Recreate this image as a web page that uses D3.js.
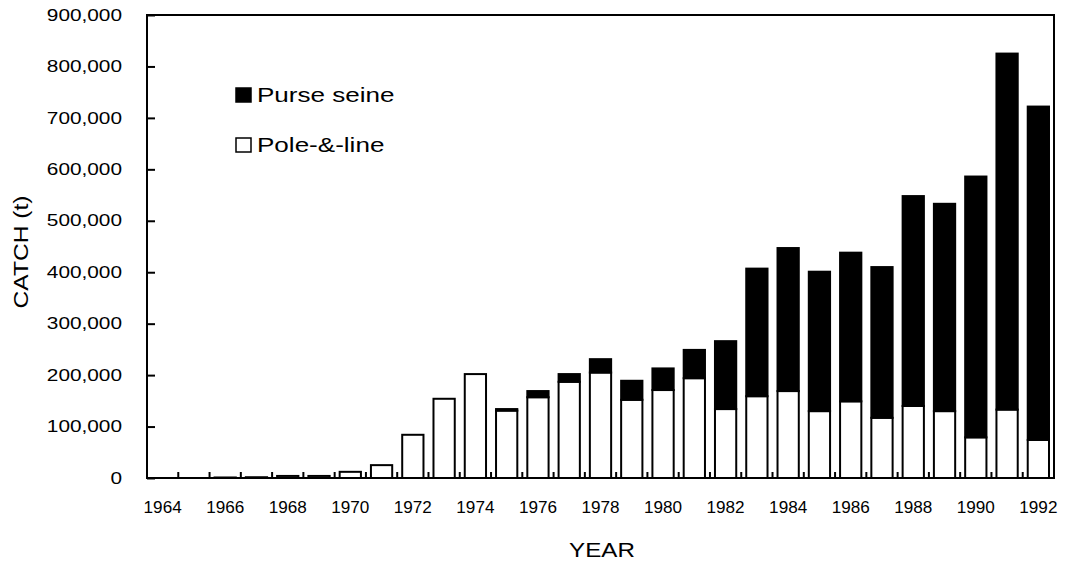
<!DOCTYPE html>
<html>
<head>
<meta charset="utf-8">
<script src="https://cdn.jsdelivr.net/npm/d3@7"></script>
<style>
  body { margin: 0; background: #fff; }
  text { font-family: "Liberation Sans", Arial, sans-serif; fill: #000; }
</style>
</head>
<body>
<svg id="chart" width="1074" height="562"></svg>
<script>
// catch by year, tonnes
const years = d3.range(1964, 1993);
const poleLine = [0, 0, 1000, 1500, 4000, 4000, 12000, 25000, 84000, 154000,
  202000, 131000, 157000, 187000, 205000, 152000, 171000, 194000, 134000, 159000,
  169000, 130000, 149000, 117000, 140000, 130000, 79000, 133000, 74000];
const purseSeine = [0, 0, 0, 0, 0, 0, 0, 0, 0, 0,
  0, 3000, 12000, 15000, 26000, 37000, 42000, 55000, 132000, 248000,
  278000, 271000, 289000, 293000, 408000, 403000, 507000, 692000, 648000];
const yTicks = [0, 100000, 200000, 300000, 400000, 500000, 600000, 700000, 800000, 900000];
const xLabelYears = years.filter(y => y % 2 === 0);
const seriesNames = ["Purse seine", "Pole-&-line"];

const plotLeft = 147, plotRight = 1054, plotTop = 15, plotBottom = 478;

const svg = d3.select("#chart");

const x = d3.scaleBand().domain(years).range([plotLeft, plotRight])
  .paddingInner(0.32).paddingOuter(0.16);
const y = d3.scaleLinear().domain([0, 900000]).range([plotBottom, plotTop]);

// stretch text horizontally like the scanned original
function stretch(sel, k) {
  sel.each(function() {
    const w = this.getComputedTextLength();
    d3.select(this).attr("textLength", w * k).attr("lengthAdjust", "spacingAndGlyphs");
  });
}

// pole-and-line (white) bars
svg.append("g").selectAll("rect")
  .data(years)
  .join("rect")
  .attr("x", d => x(d))
  .attr("width", x.bandwidth())
  .attr("y", (d, i) => y(poleLine[i]))
  .attr("height", (d, i) => y(0) - y(poleLine[i]))
  .attr("fill", "#fff")
  .attr("stroke", "#000")
  .attr("stroke-width", 2);

// purse seine (black) stacked on top
svg.append("g").selectAll("rect")
  .data(years.filter((d, i) => purseSeine[i] > 0))
  .join("rect")
  .attr("x", d => x(d))
  .attr("width", x.bandwidth())
  .attr("y", d => { const i = years.indexOf(d); return y(poleLine[i] + purseSeine[i]); })
  .attr("height", d => { const i = years.indexOf(d); return y(poleLine[i]) - y(poleLine[i] + purseSeine[i]); })
  .attr("fill", "#000")
  .attr("stroke", "#000")
  .attr("stroke-width", 2);

// frame
svg.append("rect")
  .attr("x", plotLeft).attr("y", plotTop)
  .attr("width", plotRight - plotLeft).attr("height", plotBottom - plotTop)
  .attr("fill", "none").attr("stroke", "#000").attr("stroke-width", 2);

// y axis, ticks pointing inward
const yAxis = d3.axisLeft(y).tickValues(yTicks)
  .tickFormat(d3.format(","))
  .tickSizeInner(-8).tickSizeOuter(0).tickPadding(25);
const gy = svg.append("g").attr("transform", `translate(${plotLeft},0)`).call(yAxis);
gy.select(".domain").remove();
gy.selectAll(".tick line").attr("stroke", "#000").attr("stroke-width", 2);
gy.selectAll(".tick text").attr("font-size", 16).attr("font-family", "Liberation Sans, Arial, sans-serif");
stretch(gy.selectAll(".tick text"), 1.3);

// x axis: small inward ticks between bars, labels every second year
const step = x.step();
svg.append("g").selectAll("line")
  .data(years.slice(1))
  .join("line")
  .attr("x1", d => x(d) - step * x.paddingInner() / 2)
  .attr("x2", d => x(d) - step * x.paddingInner() / 2)
  .attr("y1", plotBottom)
  .attr("y2", plotBottom - 6)
  .attr("stroke", "#000")
  .attr("stroke-width", 2);

const xl = svg.append("g").selectAll("text")
  .data(xLabelYears)
  .join("text")
  .attr("x", d => x(d) + x.bandwidth() / 2)
  .attr("y", 513)
  .attr("text-anchor", "middle")
  .attr("font-size", 16)
  .text(d => d);
stretch(xl, 1.07);

// axis titles
const yt = svg.append("text")
  .attr("transform", "translate(28,252) rotate(-90)")
  .attr("text-anchor", "middle")
  .attr("font-size", 21)
  .text("CATCH (t)");
stretch(yt, 1.17);

const xt = svg.append("text")
  .attr("x", 602).attr("y", 557)
  .attr("text-anchor", "middle")
  .attr("font-size", 21)
  .text("YEAR");
stretch(xt, 1.15);

// legend
const legend = svg.append("g").attr("transform", "translate(236,0)");
seriesNames.forEach((name, i) => {
  const row = legend.append("g").attr("transform", `translate(0,${88 + i * 50})`);
  row.append("rect")
    .attr("x", 0).attr("y", 0)
    .attr("width", 15).attr("height", 14)
    .attr("fill", i === 0 ? "#000" : "#fff")
    .attr("stroke", "#000").attr("stroke-width", 1.5);
  const t = row.append("text")
    .attr("x", 21).attr("y", 14)
    .attr("font-size", 21)
    .text(name);
  stretch(t, 1.24);
});
</script>
</body>
</html>
